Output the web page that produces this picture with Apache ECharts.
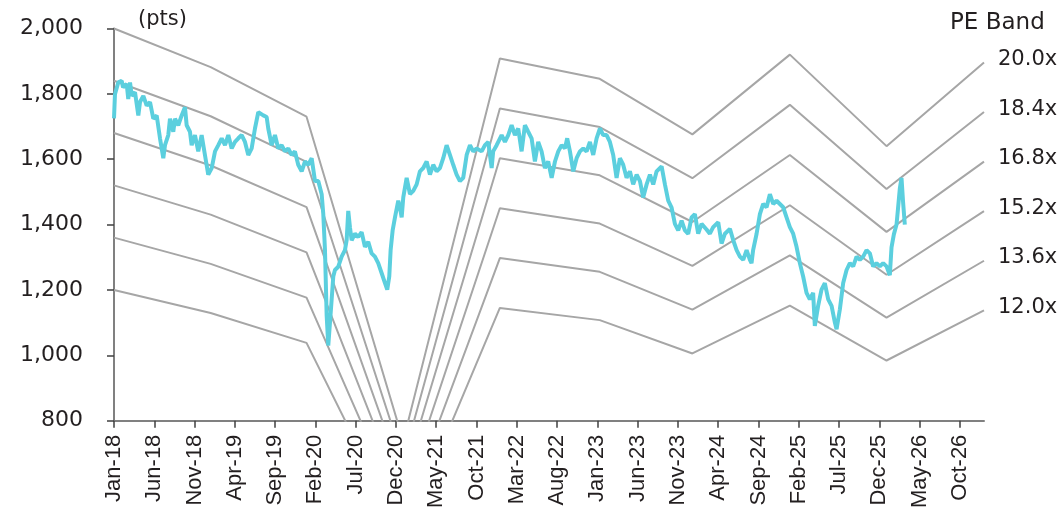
<!DOCTYPE html>
<html><head><meta charset="utf-8">
<script src="https://cdn.jsdelivr.net/npm/echarts@6/dist/echarts.min.js"></script>
<style>html,body{margin:0;padding:0;background:#fff}#c{width:1064px;height:511px}</style>
</head><body><div id="c"></div>
<script>
// x positions are months since Jan-2018
const tickMonths = [0,5,10,15,20,25,30,35,40,45,50,55,60,65,70,75,80,85,90,95,100,105];
const tickLabels = ['Jan-18','Jun-18','Nov-18','Apr-19','Sep-19','Feb-20','Jul-20','Dec-20','May-21','Oct-21','Mar-22','Aug-22','Jan-23','Jun-23','Nov-23','Apr-24','Sep-24','Feb-25','Jul-25','Dec-25','May-26','Oct-26'];

// PE band: forward EPS path (pts) and multiples
const peMultiples = [12.0,13.6,15.2,16.8,18.4,20.0];
const epsMonths = [0,12,23.9,35.9,47.9,60.3,71.8,83.9,95.9,108];
const epsValues = [100,94.1,86.5,36.9,95.4,92.3,83.8,96.0,82.0,94.8];

// Index level (pts): [month, value]
const idxPoints = [
[0,1725],[0.12,1799],[0.53,1835],[0.96,1840],[1.12,1820],[1.58,1830],[1.77,1784],[1.99,1835],[2.2,1794],[2.61,1805],
[3.02,1734],[3.23,1775],[3.64,1794],[4.06,1764],[4.47,1775],[4.88,1724],[5.3,1734],[5.71,1664],[6.12,1603],[6.33,1643],
[6.74,1674],[6.95,1724],[7.36,1684],[7.57,1724],[7.98,1704],[8.4,1734],[8.81,1759],[9.02,1704],[9.43,1684],[9.64,1643],
[10.05,1674],[10.46,1624],[10.88,1674],[11.29,1613],[11.7,1553],[12.13,1573],[12.54,1624],[12.95,1643],[13.37,1664],[13.78,1643],
[14.19,1674],[14.61,1633],[15.02,1653],[15.43,1664],[15.85,1674],[16.26,1653],[16.67,1613],[17.09,1633],[17.5,1694],[17.91,1744],
[18.53,1734],[18.95,1729],[19.15,1694],[19.57,1643],[19.98,1674],[20.39,1633],[20.81,1643],[21.22,1624],[21.63,1633],[22.06,1613],
[22.46,1624],[22.87,1583],[23.3,1563],[23.71,1593],[24.12,1583],[24.54,1603],[24.95,1533],[25.36,1533],[25.78,1493],[25.98,1432],
[26.19,1322],[26.4,1121],[26.6,1030],[26.81,1100],[27.02,1171],[27.22,1241],[27.43,1261],[27.84,1271],[28.26,1302],[28.67,1322],
[28.88,1352],[29.08,1442],[29.29,1392],[29.5,1352],[29.91,1372],[30.32,1362],[30.74,1377],[31.15,1332],[31.56,1347],[31.98,1312],
[32.39,1302],[32.8,1282],[33.23,1251],[33.64,1221],[33.92,1201],[34.17,1241],[34.34,1322],[34.59,1382],[34.88,1422],[35.29,1473],
[35.5,1452],[35.71,1422],[35.91,1483],[36.33,1543],[36.74,1493],[37.15,1503],[37.57,1523],[37.98,1563],[38.39,1573],[38.81,1593],
[39.22,1553],[39.63,1583],[40.05,1563],[40.46,1573],[40.87,1603],[41.29,1643],[41.7,1613],[42.11,1583],[42.53,1553],[42.94,1533],
[43.35,1543],[43.78,1613],[44.19,1643],[44.59,1624],[45.02,1633],[45.64,1624],[46.05,1643],[46.46,1653],[46.88,1573],[47.07,1624],
[47.5,1643],[48.12,1674],[48.53,1653],[48.94,1674],[49.36,1704],[49.77,1674],[50.18,1694],[50.6,1624],[51.01,1704],[51.42,1684],
[51.84,1664],[52.25,1593],[52.66,1653],[53.08,1624],[53.49,1573],[53.9,1593],[54.33,1543],[54.74,1593],[55.15,1624],[55.57,1643],
[55.98,1633],[56.26,1664],[56.6,1624],[57.01,1563],[57.43,1603],[57.84,1624],[58.25,1633],[58.67,1624],[59.08,1653],[59.49,1613],
[59.91,1664],[60.32,1694],[60.73,1674],[61.15,1674],[61.56,1653],[61.97,1613],[62.39,1543],[62.8,1603],[63.21,1583],[63.63,1543],
[64.04,1563],[64.45,1523],[64.88,1553],[65.29,1533],[65.69,1483],[66.12,1523],[66.53,1553],[66.94,1523],[67.36,1563],[67.98,1578],
[68.39,1523],[68.8,1473],[69.22,1452],[69.63,1402],[70.04,1382],[70.46,1412],[70.87,1382],[71.28,1372],[71.7,1422],[72.11,1432],
[72.52,1372],[72.94,1402],[73.56,1385],[73.97,1372],[74.38,1392],[75.01,1407],[75.42,1342],[75.84,1372],[76.46,1387],[76.87,1352],
[77.29,1322],[77.7,1302],[78.11,1292],[78.53,1322],[78.94,1292],[79.14,1282],[79.34,1322],[79.77,1372],[80.18,1432],[80.59,1463],
[81.01,1453],[81.42,1493],[81.83,1463],[82.25,1473],[82.66,1463],[83.07,1453],[83.49,1422],[83.9,1392],[84.31,1372],[84.73,1332],
[85.14,1282],[85.55,1241],[85.97,1191],[86.38,1171],[86.79,1191],[87.0,1090],[87.41,1151],[87.83,1201],[88.24,1221],[88.66,1171],
[89.08,1151],[89.49,1100],[89.7,1080],[90.11,1141],[90.52,1221],[90.94,1261],[91.35,1282],[91.76,1272],[92.18,1302],[92.59,1292],
[93.0,1302],[93.42,1322],[93.83,1312],[94.24,1272],[94.66,1282],[95.07,1272],[95.48,1282],[95.9,1272],[96.31,1245],[96.52,1330],
[96.81,1370],[97.14,1400],[97.33,1450],[97.55,1510],[97.76,1543],[97.95,1470],[98.17,1400]
];

const TXT = '#231f20';
const chart = echarts.init(document.getElementById('c'), null, {renderer:'canvas'});

const bandSeries = peMultiples.map(m => ({
  type:'line',
  name: m.toFixed(1)+'x',
  data: epsMonths.map((t,i) => [t, epsValues[i]*m]),
  showSymbol:false,
  symbol:'none',
  lineStyle:{color:'#a6a6a6', width:2},
  clip:true,
  z:2,
  endLabel:{show:true, formatter: m.toFixed(1)+'x', distance:14, offset:[0,-3],
    fontFamily:'DejaVu Sans', fontSize:21, color:TXT}
}));

chart.setOption({
  animation:false,
  backgroundColor:'#fff',
  grid:{left:114, right:80, top:28.5, bottom:85, containLabel:false},
  xAxis:{
    type:'value', min:0, max:108,
    axisLine:{show:true, lineStyle:{color:'#808080', width:2}},
    axisTick:{show:true, customValues: tickMonths, length:7, lineStyle:{color:'#404040', width:1.5}},
    axisLabel:{customValues: tickMonths, rotate:90, margin:14,
      formatter: v => tickLabels[tickMonths.indexOf(v)] || '',
      fontFamily:'Liberation Sans', fontSize:22, color:TXT},
    splitLine:{show:false}
  },
  yAxis:{
    type:'value', min:800, max:2000, interval:200,
    axisLine:{show:true, lineStyle:{color:'#808080', width:2}},
    axisTick:{show:true, length:7, lineStyle:{color:'#404040', width:1.5}},
    axisLabel:{margin:31, formatter: v => v.toLocaleString('en-US'),
      fontFamily:'DejaVu Sans', fontSize:22, color:TXT},
    splitLine:{show:false}
  },
  graphic:[
    {type:'text', left:138, top:9, style:{text:'(pts)', font:'21px "DejaVu Sans"', fill:TXT}},
    {type:'text', left:950, top:12, style:{text:'PE Band', font:'23px "DejaVu Sans"', fill:TXT}}
  ],
  series: bandSeries.concat([{
    type:'line', name:'Index',
    data: idxPoints,
    showSymbol:false, symbol:'none',
    lineStyle:{color:'#5bcfde', width:4},
    z:5
  }])
});
</script>
</body></html>
